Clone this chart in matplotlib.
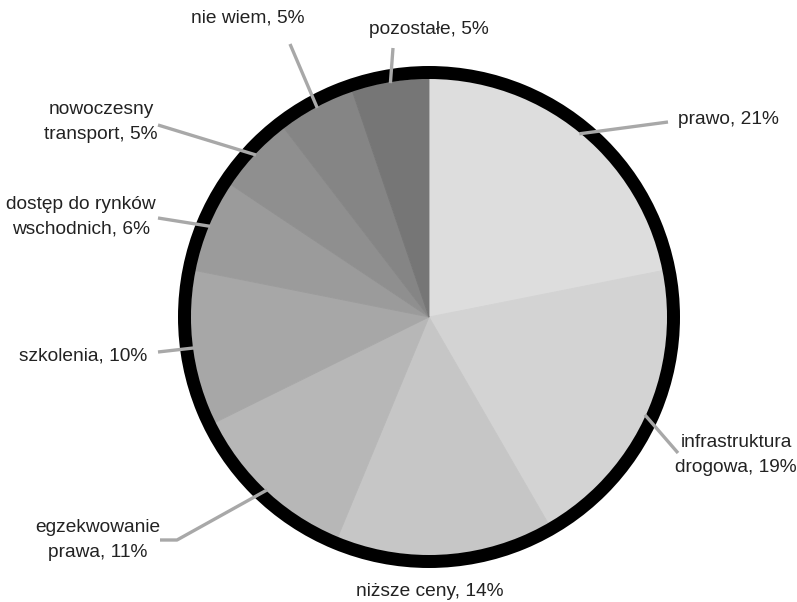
import numpy as np
import matplotlib
matplotlib.use("Agg")
import matplotlib.pyplot as plt
from matplotlib.patches import Wedge

# Survey answers, clockwise from 12 o'clock
categories = ["prawo", "infrastruktura\ndrogowa", "niższe ceny", "egzekwowanie\nprawa",
              "szkolenia", "dostęp do rynków\nwschodnich", "nowoczesny\ntransport",
              "nie wiem", "pozostałe"]
shares = [21, 19, 14, 11, 10, 6, 5, 5, 5]
shades = ["#dddddd", "#d3d3d3", "#c6c6c6", "#b7b7b7", "#a7a7a7",
          "#9b9b9b", "#8f8f8f", "#858585", "#767676"]

# Label layout in pixel coords (x, y from top): leader bend points, text anchor, alignment
W, H = 797, 602
CX, CY = 429, 317
R_IN, RING = 238, 13
leaders = [
    [(668, 122)],
    [(678, 453)],
    [],
    [(177, 540), (160, 540)],
    [(158, 352)],
    [(158, 218)],
    [(158, 125)],
    [(290, 44)],
    [(393, 48)],
]
text_pos = [(678, 120, "left"), (736, 455, "center"), (430, 591, "center"),
            (98, 540, "center"), (147, 356, "right"), (81, 217, "center"),
            (101, 122, "center"), (248, 18, "center"), (429, 30, "center")]

plt.rcParams['font.family'] = ['Liberation Sans', 'DejaVu Sans']

fig = plt.figure(figsize=(W / 100, H / 100), dpi=100)
ax = fig.add_axes([0, 0, 1, 1])

wedges, _ = ax.pie(shares, colors=shades, startangle=90, counterclock=False,
                   center=(CX, H - CY), radius=R_IN, frame=True,
                   wedgeprops=dict(linewidth=0.6))
for w, c in zip(wedges, shades):
    w.set_edgecolor(c)
ax.set_xlim(0, W)
ax.set_ylim(0, H)
ax.axis('off')

# thick black rim round the pie
ax.add_patch(Wedge((CX, H - CY), R_IN + RING, 0, 360, width=RING,
                   facecolor='black', edgecolor='none', zorder=3))

for w, cat, val, pts, (tx, ty, ha) in zip(wedges, categories, shares, leaders, text_pos):
    if pts:
        mid = np.deg2rad((w.theta1 + w.theta2) / 2)
        xs = [CX + (R_IN - 1) * np.cos(mid)] + [p[0] for p in pts]
        ys = [H - CY + (R_IN - 1) * np.sin(mid)] + [H - p[1] for p in pts]
        ax.plot(xs, ys, color='#a8a8a8', linewidth=2.4, zorder=4,
                solid_capstyle='butt')
    ax.text(tx, H - ty, f"{cat}, {val}%", ha=ha, va='center', fontsize=13.8,
            color='#222222', linespacing=1.55, multialignment='center')

fig.savefig("out.png", dpi=100, facecolor='white')
